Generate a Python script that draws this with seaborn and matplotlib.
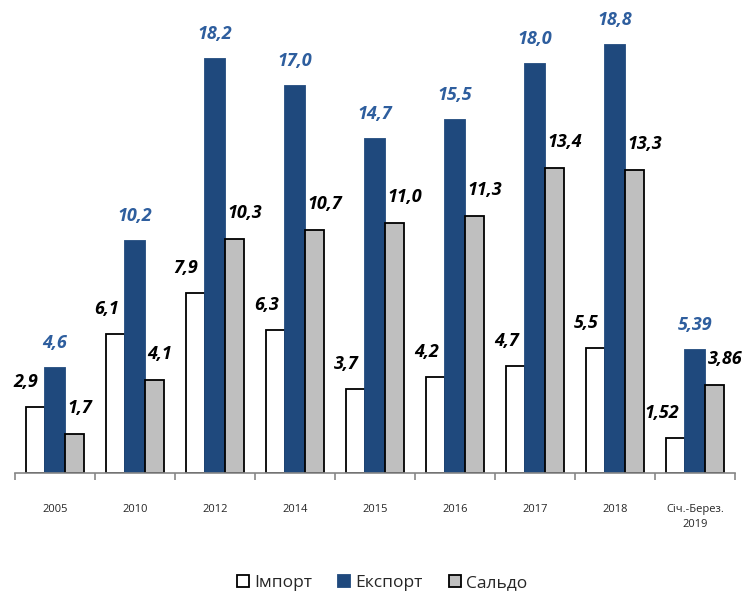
import pandas as pd
import numpy as np
import matplotlib.pyplot as plt
import seaborn as sns

# ==========================================
# DATA
# ==========================================
periods = ["2005", "2010", "2012", "2014", "2015", "2016", "2017", "2018", "Січ.-Берез.\n2019"]
imports = [2.9, 6.1, 7.9, 6.3, 3.7, 4.2, 4.7, 5.5, 1.52]
exports = [4.6, 10.2, 18.2, 17.0, 14.7, 15.5, 18.0, 18.8, 5.39]
saldo = [1.7, 4.1, 10.3, 10.7, 11.0, 11.3, 13.4, 13.3, 3.86]
labels_imp = ["2,9", "6,1", "7,9", "6,3", "3,7", "4,2", "4,7", "5,5", "1,52"]
labels_exp = ["4,6", "10,2", "18,2", "17,0", "14,7", "15,5", "18,0", "18,8", "5,39"]
labels_sal = ["1,7", "4,1", "10,3", "10,7", "11,0", "11,3", "13,4", "13,3", "3,86"]
series = ["Імпорт", "Експорт", "Сальдо"]

df = pd.DataFrame({
    "period": periods * 3,
    "value": imports + exports + saldo,
    "series": [series[0]] * 9 + [series[1]] * 9 + [series[2]] * 9,
})

# ==========================================
# PLOT
# ==========================================
sns.set_style("white")
plt.rcParams["font.family"] = ["Open Sans", "DejaVu Sans"]

fig = plt.figure(figsize=(7.55, 5.92), dpi=100)
ax = fig.add_axes([15 / 755, 119 / 592, 720 / 755, 455 / 592])

colors = {"Імпорт": "#FFFFFF", "Експорт": "#1F497D", "Сальдо": "#BFBFBF"}
sns.barplot(data=df, x="period", y="value", hue="series", palette=colors,
            width=0.73, ax=ax, legend=True, saturation=1)

edges = ["black", "#1F497D", "black"]
for cont, ec in zip(ax.containers, edges):
    for bar in cont:
        bar.set_edgecolor(ec)
        bar.set_linewidth(1.3)

# value labels (offset in pixels from the bar top)
label_sets = [labels_imp, labels_exp, labels_sal]
offsets = [(3, 25, "right", "black"), (0, 25, "center", "#2E5E9E"), (-7, 26, "left", "black")]
for cont, labs, (dx, dy, ha, col) in zip(ax.containers, label_sets, offsets):
    for bar, lab in zip(cont, labs):
        x = bar.get_x() + bar.get_width() / 2
        y = bar.get_height()
        ax.annotate(lab, (x, y), xytext=(dx, dy), textcoords="offset pixels",
                    ha=ha, va="center", fontsize=13, fontweight="bold",
                    fontstyle="italic", color=col)

ax.set_ylim(0, 20)
ax.set_xlim(-0.5, 8.5)
ax.set_yticks([])
ax.set_xlabel("")
ax.set_ylabel("")
for side in ["left", "right", "top"]:
    ax.spines[side].set_visible(False)
ax.spines["bottom"].set_color("#868686")
ax.spines["bottom"].set_linewidth(1.2)

ax.set_xticks(np.arange(9))
ax.set_xticklabels(periods, fontsize=8, linespacing=1.5)
ax.set_xticks(np.arange(-0.5, 9, 1), minor=True)
ax.tick_params(axis="x", which="major", length=0, pad=22)
ax.tick_params(axis="x", which="minor", length=5, width=1.2, color="#868686", bottom=True)

handles, labs = ax.get_legend_handles_labels()
for h in handles:
    h.set_edgecolor("black")
    h.set_linewidth(1.3)
handles[1].set_edgecolor("#1F497D")
ax.legend(handles, labs, loc="center", bbox_to_anchor=(0.51, -0.241),
          ncol=3, frameon=False, fontsize=12.5, handlelength=0.7, handleheight=0.7,
          handletextpad=0.3, columnspacing=1.5)

plt.savefig("out.png", dpi=100)
